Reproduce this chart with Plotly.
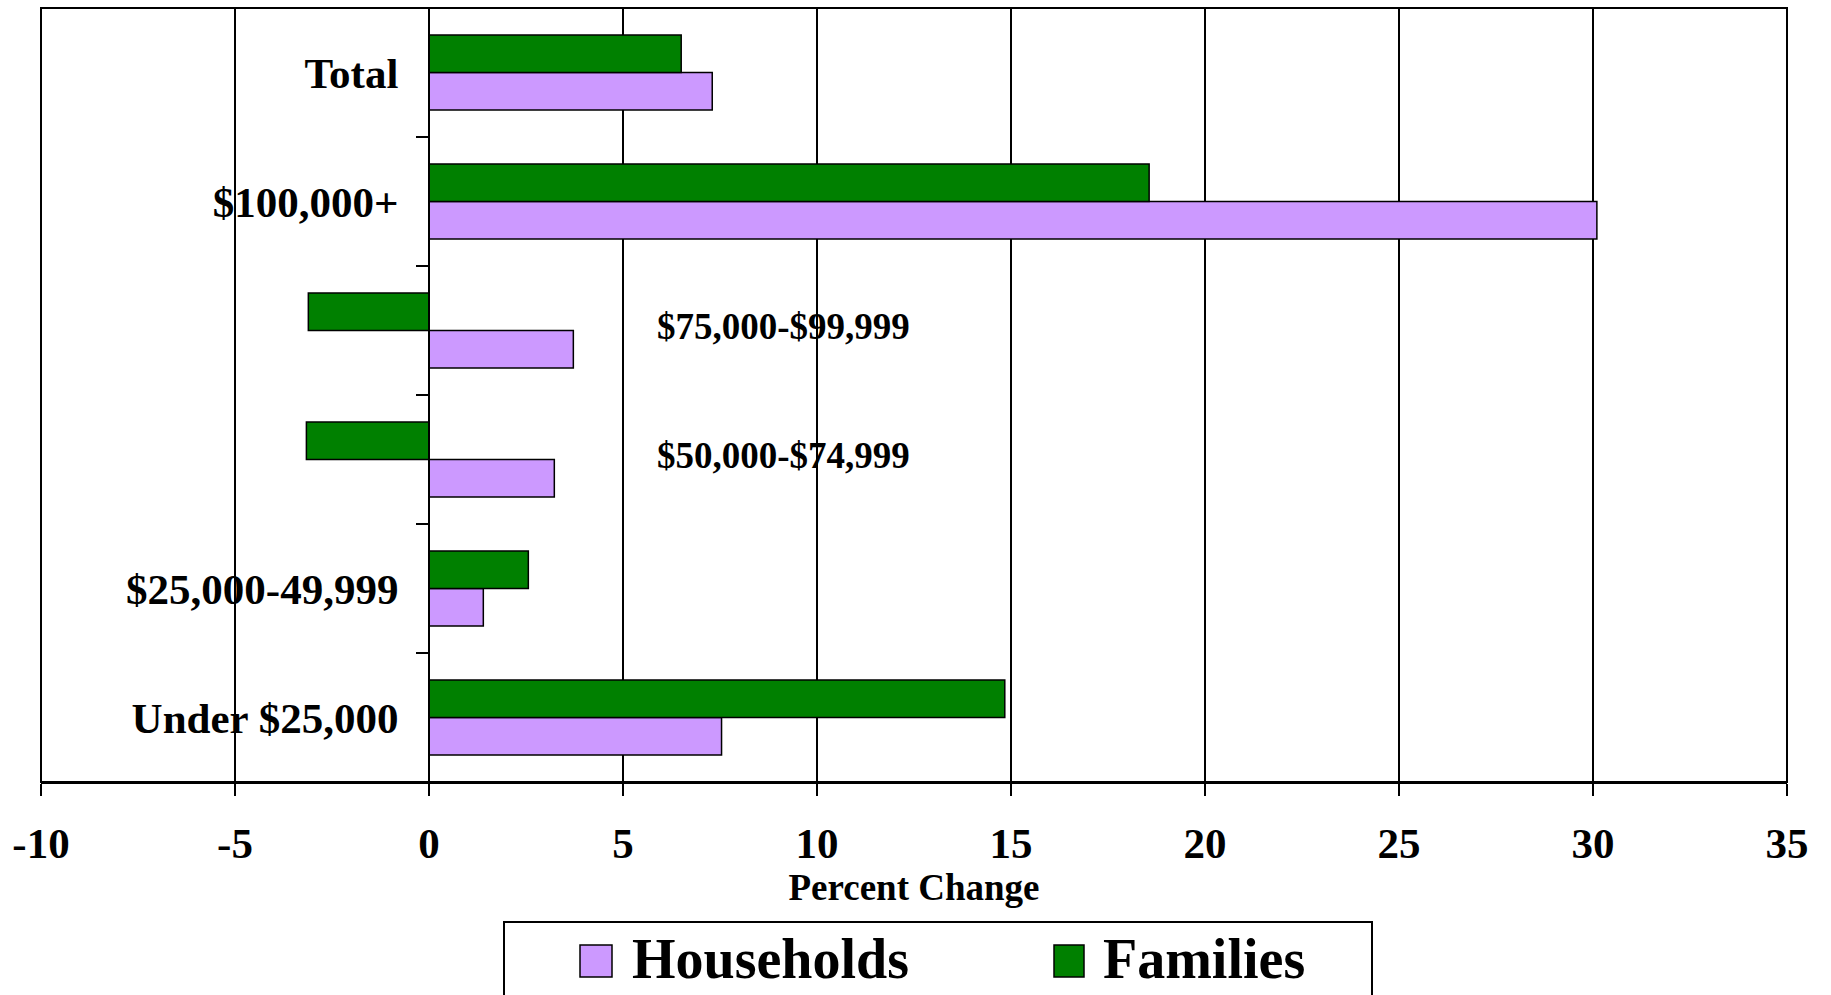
import plotly.graph_objects as go

# Income groups, listed from the bottom of the chart to the top
categories = [
    "Under $25,000",
    "$25,000-49,999",
    "$50,000-$74,999",
    "$75,000-$99,999",
    "$100,000+",
    "Total",
]
# Labels shown on the category axis (two groups are labelled inside the plot)
axis_labels = ["Under $25,000", "$25,000-49,999", "", "", "$100,000+", "Total"]
inner_labels = ["$50,000-$74,999", "$75,000-$99,999"]

series_names = ["Households", "Families"]
households = [7.54, 1.40, 3.23, 3.72, 30.1, 7.30]
families = [14.84, 2.56, -3.16, -3.11, 18.56, 6.50]
series_values = [households, families]
series_colors = ["#CC99FF", "#008000"]

x_ticks = [-10, -5, 0, 5, 10, 15, 20, 25, 30, 35]
x_tick_text = ["-10", "-5", "0", "5", "10", "15", "20", "25", "30", "35"]

FONT = "Liberation Serif, Times New Roman, serif"
W, H = 1831, 995
L, R, T, B = 41, 44, 8, 213
PW, PH = W - L - R, H - T - B


def px_x(p):
    return (p - L) / PW


def px_y(p):
    return (H - B - p) / PH


fig = go.Figure()
for name, vals, col in zip(series_names, series_values, series_colors):
    fig.add_trace(go.Bar(
        y=categories, x=vals, name=name, orientation="h",
        marker=dict(color=col, line=dict(color="black", width=1.5)),
        showlegend=False,
    ))

shapes = [
    dict(type="rect", xref="paper", yref="paper", x0=0, x1=1, y0=0, y1=1,
         line=dict(color="black", width=2), layer="above"),
    # legend frame
    dict(type="rect", xref="paper", yref="paper",
         x0=px_x(504), x1=px_x(1372), y0=px_y(1010), y1=px_y(922),
         line=dict(color="black", width=2), fillcolor="white", layer="above"),
]
annotations = []
legend_items = [(580, 612, 630), (1054, 1084, 1101)]
for (sx0, sx1, tx), name, col in zip(legend_items, series_names, series_colors):
    shapes.append(dict(type="rect", xref="paper", yref="paper",
                       x0=px_x(sx0), x1=px_x(sx1), y0=px_y(977), y1=px_y(945),
                       line=dict(color="black", width=1.5), fillcolor=col,
                       layer="above"))
    annotations.append(dict(xref="paper", yref="paper", x=px_x(tx), y=px_y(959),
                            xanchor="left", yanchor="middle", showarrow=False,
                            text=name,
                            font=dict(family=FONT, size=56, color="black",
                                      weight="bold")))

for lab in inner_labels:
    annotations.append(dict(xref="x", yref="y", x=5.83, y=lab, xanchor="left",
                            yanchor="middle", showarrow=False, text=lab, yshift=4,
                            font=dict(family=FONT, size=37, color="black",
                                      weight="bold")))

fig.update_layout(
    width=W, height=H,
    margin=dict(l=L, r=R, t=T, b=B, autoexpand=False),
    paper_bgcolor="white", plot_bgcolor="white",
    barmode="group", bargap=0.42, bargroupgap=0,
    shapes=shapes, annotations=annotations,
    xaxis=dict(
        range=[-10, 35], tickmode="array", tickvals=x_ticks, ticktext=x_tick_text,
        showgrid=True, gridcolor="black", gridwidth=2,
        zeroline=True, zerolinecolor="black", zerolinewidth=2,
        showline=True, linecolor="black", linewidth=2,
        ticks="outside", ticklen=12, tickwidth=2, tickcolor="black",
        ticklabelstandoff=10,
        tickfont=dict(family=FONT, size=43, color="black", weight="bold"),
        title=dict(text="Percent Change", standoff=8,
                   font=dict(family=FONT, size=37, color="black", weight="bold")),
    ),
    yaxis=dict(
        type="category", categoryorder="array", categoryarray=categories,
        tickmode="array", tickvals=categories, ticktext=axis_labels,
        anchor="free", position=10 / 45,
        showline=True, linecolor="black", linewidth=2,
        showgrid=False, zeroline=False,
        ticks="outside", tickson="boundaries", ticklen=12, tickwidth=2,
        tickcolor="black", ticklabelstandoff=21,
        tickfont=dict(family=FONT, size=43, color="black", weight="bold"),
    ),
)

fig.write_html("out.html")
